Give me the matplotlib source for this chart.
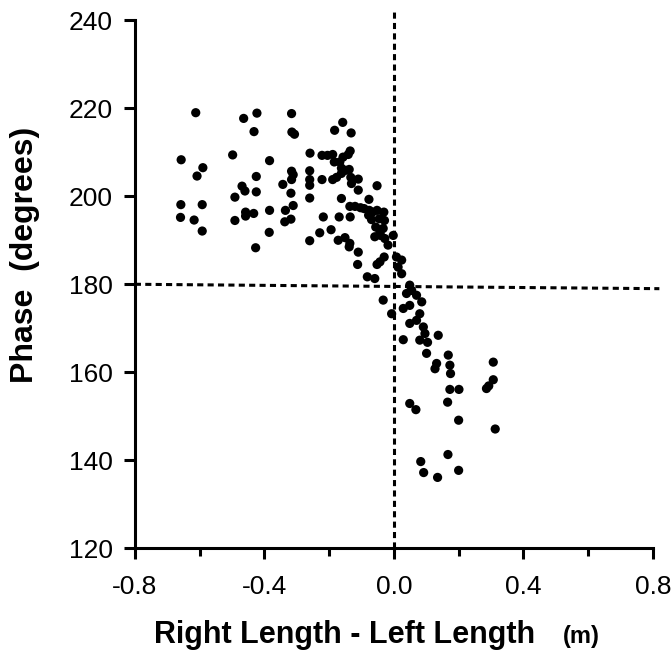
import matplotlib.pyplot as plt

# Right length - left length (m) and phase (degrees)
diff_left = [-0.612, -0.464, -0.423, -0.316, -0.432, -0.315, -0.307, -0.657, -0.498, -0.384,
             -0.259, -0.590, -0.608, -0.425, -0.316, -0.311, -0.316, -0.260, -0.260, -0.260,
             -0.343, -0.469, -0.460, -0.425, -0.491, -0.318, -0.260, -0.658, -0.592, -0.311,
             -0.659, -0.617, -0.458, -0.458, -0.433, -0.384, -0.335, -0.491, -0.337, -0.318,
             -0.592, -0.385, -0.260, -0.427]
phase_left = [219.0, 217.7, 218.9, 218.8, 214.7, 214.6, 214.1, 208.3, 209.4, 208.1,
              209.8, 206.5, 204.6, 204.5, 205.7, 204.9, 203.8, 205.8, 203.8, 202.5,
              202.7, 202.3, 201.2, 201.0, 199.8, 200.7, 199.6, 198.1, 198.1, 197.9,
              195.2, 194.6, 196.4, 195.5, 196.1, 196.8, 196.8, 194.5, 194.2, 194.8,
              192.1, 191.8, 189.9, 188.3]

diff_mid = [-0.158, -0.183, -0.132, -0.222, -0.205, -0.189, -0.135, -0.141, -0.157, -0.167,
            -0.184, -0.162, -0.149, -0.138, -0.222, -0.189, -0.177, -0.133, -0.110, -0.162,
            -0.131, -0.110, -0.052, -0.162, -0.077, -0.136, -0.120, -0.103, -0.092, -0.076,
            -0.078, -0.066, -0.052, -0.031, -0.069, -0.045, -0.029, -0.218, -0.169, -0.135,
            -0.056, -0.033, -0.043, -0.229, -0.194, -0.172, -0.151, -0.136, -0.138, -0.110,
            -0.059, -0.041, -0.028, -0.018, -0.002, -0.112, -0.052, -0.043, -0.030, -0.082,
            -0.059, 0.008, 0.024, 0.013, 0.024, -0.033, -0.007]
phase_mid = [216.8, 215.0, 214.4, 209.3, 209.3, 209.5, 210.3, 209.5, 208.9, 207.8,
             207.8, 206.4, 205.9, 206.1, 203.8, 203.8, 204.3, 204.3, 203.9, 205.2,
             202.9, 201.4, 202.4, 199.5, 199.3, 197.7, 197.7, 197.4, 197.2, 196.8,
             195.7, 196.4, 196.8, 196.4, 194.7, 194.9, 194.5, 195.3, 195.3, 195.3,
             193.0, 192.7, 191.9, 191.7, 192.4, 190.0, 190.6, 189.3, 188.5, 187.3,
             190.8, 191.1, 190.4, 188.9, 191.1, 184.5, 184.5, 185.1, 186.2, 181.7,
             181.3, 186.2, 185.5, 183.9, 182.4, 176.4, 173.3]

diff_right = [0.049, 0.055, 0.039, 0.070, 0.086, 0.029, 0.049, 0.080, 0.070, 0.049,
              0.091, 0.096, 0.080, 0.137, 0.029, 0.101, 0.168, 0.127, 0.132, 0.173,
              0.175, 0.307, 0.307, 0.286, 0.293, 0.173, 0.201, 0.049, 0.068, 0.166,
              0.200, 0.313, 0.167, 0.083, 0.092, 0.135, 0.200, 0.104]
phase_right = [179.8, 178.6, 177.9, 177.5, 176.0, 174.5, 175.2, 173.3, 171.8, 171.1,
               170.3, 168.8, 167.3, 168.4, 167.4, 164.3, 163.9, 160.8, 162.0, 161.6,
               159.7, 162.3, 158.3, 156.3, 156.9, 156.1, 156.1, 152.9, 151.5, 153.2,
               149.1, 147.1, 141.3, 139.7, 137.2, 136.1, 137.7, 166.8]

diff = diff_left + diff_mid + diff_right
phase = phase_left + phase_mid + phase_right

x_ticks = [-0.8, -0.4, 0.0, 0.4, 0.8]
x_tick_labels = ['-0.8', '-0.4', '0.0', '0.4', '0.8']
x_minor = [-0.6, -0.2, 0.2, 0.6]
y_ticks = [120, 140, 160, 180, 200, 220, 240]

plt.rcParams['font.family'] = ['Liberation Sans', 'DejaVu Sans']

fig = plt.figure(figsize=(6.71, 6.55), dpi=100)
ax = fig.add_axes([0.201, 0.163, 0.772, 0.806])

ax.scatter(diff, phase, s=44, color='black', edgecolors='none', zorder=3, clip_on=False)

# reference lines at zero difference and 180 degrees
ax.plot([0, 0], [120, 242.5], color='black', lw=2.2, ls=(0, (2, 1.4)), clip_on=False)
ax.plot([-0.8, 0.82], [180, 179], color='black', lw=2.2, ls=(0, (2, 1.4)), clip_on=False)

ax.set_xlim(-0.8, 0.8)
ax.set_ylim(120, 240)
ax.set_xticks(x_ticks)
ax.set_xticklabels(x_tick_labels)
ax.set_xticks(x_minor, minor=True)
ax.set_yticks(y_ticks)

ax.spines['top'].set_visible(False)
ax.spines['right'].set_visible(False)
for side in ['left', 'bottom']:
    ax.spines[side].set_linewidth(2.2)
ax.tick_params(axis='both', which='major', direction='out', length=8, width=2.2,
               labelsize=19)
ax.tick_params(axis='x', which='major', pad=11)
ax.tick_params(axis='y', which='major', pad=8)
ax.tick_params(axis='x', which='minor', direction='out', length=6, width=2.2)

fig.text(0.514, 0.0183, 'Right Length - Left Length', fontsize=22, fontweight='bold',
         ha='center', va='baseline')
fig.text(0.867, 0.0183, '(m)', fontsize=17, fontweight='bold', ha='center', va='baseline')
fig.text(0.049, 0.611, 'Phase  (degrees)', fontsize=23, fontweight='bold', rotation=90,
         rotation_mode='anchor', ha='center', va='baseline')

fig.savefig('out.png', dpi=100)
